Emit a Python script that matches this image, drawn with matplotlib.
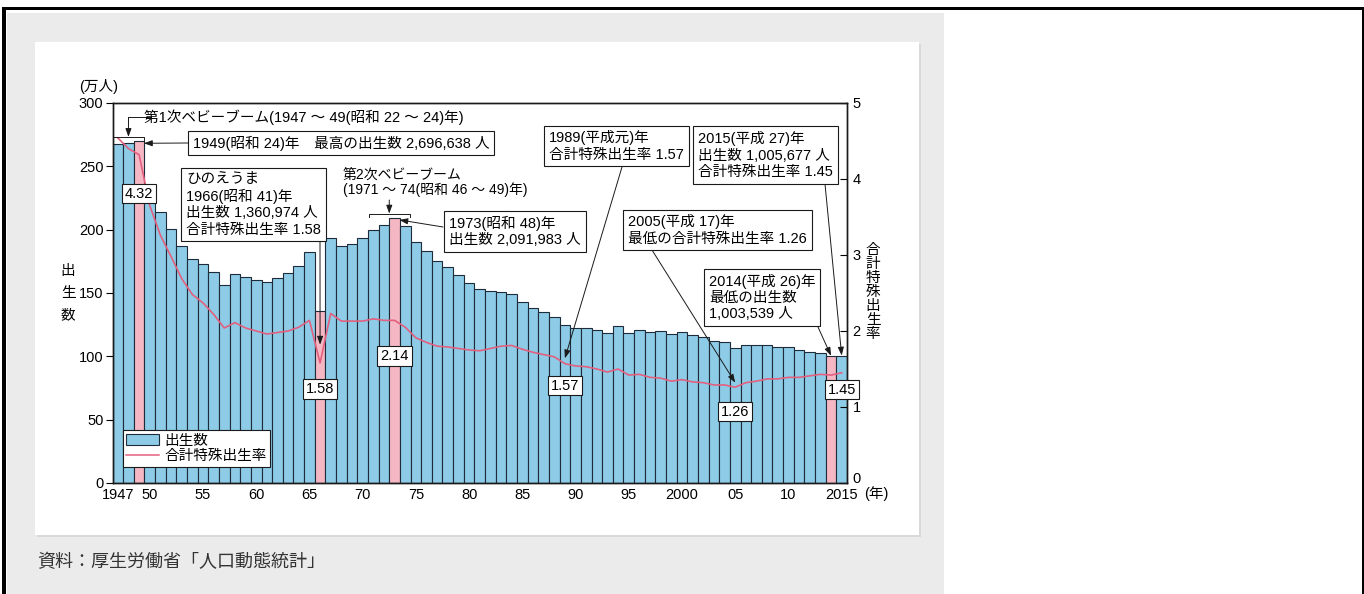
import matplotlib.pyplot as plt
from matplotlib.patches import Rectangle, Patch
from matplotlib.lines import Line2D

plt.rcParams['font.family'] = ['Liberation Sans', 'Noto Sans CJK JP', 'DejaVu Sans']

W, H = 1364, 594

# births (10,000 persons) and total fertility rate, 1947-2015
years = list(range(1947, 2016))
births = [267.9, 268.2, 269.7, 233.8, 213.8, 200.5, 186.8, 177.0, 173.1, 166.5,
          156.7, 165.3, 162.6, 160.6, 158.9, 161.9, 165.9, 171.7, 182.4, 136.1,
          193.6, 187.2, 188.9, 193.4, 200.1, 203.9, 209.2, 203.0, 190.1, 183.3,
          175.5, 170.9, 164.3, 157.7, 152.9, 151.5, 150.9, 149.0, 143.2, 138.3,
          134.7, 131.4, 124.7, 122.2, 122.3, 120.9, 118.8, 123.8, 118.7, 120.7,
          119.2, 120.3, 117.8, 119.1, 117.1, 115.4, 112.4, 111.1, 106.3, 109.3,
          109.0, 109.1, 107.0, 107.1, 105.1, 103.7, 103.0, 100.4, 100.6]
tfr = [4.54, 4.40, 4.32, 3.65, 3.26, 2.98, 2.69, 2.48, 2.37, 2.22,
       2.04, 2.11, 2.04, 2.00, 1.96, 1.98, 2.00, 2.05, 2.14, 1.58,
       2.23, 2.13, 2.13, 2.13, 2.16, 2.14, 2.14, 2.05, 1.91, 1.85,
       1.80, 1.79, 1.77, 1.75, 1.74, 1.77, 1.80, 1.81, 1.76, 1.72,
       1.69, 1.66, 1.57, 1.54, 1.53, 1.50, 1.46, 1.50, 1.42, 1.43,
       1.39, 1.38, 1.34, 1.36, 1.33, 1.32, 1.29, 1.29, 1.26, 1.32,
       1.34, 1.37, 1.37, 1.39, 1.39, 1.41, 1.43, 1.42, 1.45]
highlight_years = [1949, 1966, 1973, 2014]
tfr_label_years = [1949, 1966, 1973, 1989, 2005, 2015]
xtick_years = [1947, 1950, 1955, 1960, 1965, 1970, 1975, 1980, 1985, 1990,
               1995, 2000, 2005, 2010, 2015]
xtick_labels = ['1947', '50', '55', '60', '65', '70', '75', '80', '85', '90',
                '95', '2000', '05', '10', '2015']

BLUE = '#8dcbe7'
PINK = '#f5b7c3'
EDGE = '#1e2b38'
LINE = '#e3607f'
INK = '#1a1a1a'

# axes box in pixels
AX_L, AX_R, AX_T, AX_B = 112.5, 847, 103, 483


def axfrac(px, py):
    return ((px - AX_L) / (AX_R - AX_L), (AX_B - py) / (AX_B - AX_T))


def val(lst, year):
    return lst[years.index(year)]


fig = plt.figure(figsize=(W / 100, H / 100), dpi=100)
fig.patch.set_facecolor('white')

# page decoration
fig.add_artist(Rectangle((7 / W, 0), 937 / W, 581 / H, transform=fig.transFigure,
                         fc='#ebebeb', ec='none', zorder=0))
fig.add_artist(Rectangle((37 / W, 1 - 537 / H), 884 / W, 493 / H, transform=fig.transFigure,
                         fc='#d9d9d9', ec='none', zorder=0))
fig.add_artist(Rectangle((35 / W, 1 - 535 / H), 884 / W, 493 / H, transform=fig.transFigure,
                         fc='white', ec='none', zorder=0))
fig.add_artist(Rectangle((2 / W, 1 - 9.5 / H), 1362 / W, 2.5 / H, transform=fig.transFigure,
                         fc='black', ec='none', zorder=1))
fig.add_artist(Rectangle((2 / W, 0), 4 / W, 1 - 7 / H, transform=fig.transFigure,
                         fc='black', ec='none', zorder=1))
fig.add_artist(Rectangle((1361.5 / W, 0), 2.5 / W, 1 - 7 / H, transform=fig.transFigure,
                         fc='black', ec='none', zorder=1))

ax = fig.add_axes([AX_L / W, 1 - AX_B / H, (AX_R - AX_L) / W, (AX_B - AX_T) / H])
ax.set_facecolor('none')
colors = [PINK if y in highlight_years else BLUE for y in years]
ax.bar(years, births, width=1.0, color=colors, edgecolor=EDGE, linewidth=0.8, zorder=2)
ax.set_xlim(1946.5, 2015.5)
ax.set_ylim(0, 300)
ax.set_yticks(range(0, 301, 50))
ax.set_xticks(xtick_years, xtick_labels)
ax.tick_params(axis='y', direction='out', length=5, width=0.8, pad=1.5, labelsize=10.5)
ax.tick_params(axis='x', length=0, pad=3.5, labelsize=10.5)

ax2 = ax.twinx()
ax2.plot(years, tfr, color=LINE, lw=1.2, zorder=3)
ax2.set_ylim(0, 5)
ax2.set_yticks(range(0, 6))
ax2.tick_params(axis='y', direction='in', length=5, width=0.8, pad=4, labelsize=10.5)
# lift the right-hand "0" so it sits above the 2015 year label
ax2.get_yticklabels()[0].set_verticalalignment('baseline')
for a in (ax, ax2):
    for s in a.spines.values():
        s.set_linewidth(1.0)
        s.set_color(INK)

box = dict(boxstyle='square,pad=0.33', fc='white', ec=INK, lw=0.8)
arrow = dict(arrowstyle='-|>,head_length=0.5,head_width=0.18', color=INK, lw=0.7,
             shrinkA=0, shrinkB=0)


# brackets over the baby booms
def bracket(y0, y1, tip_py):
    top = max(val(births, y) for y in range(y0, y1 + 1)) + 3.5
    ax2.plot([y0 - 0.45, y0 - 0.45, y1 + 0.45, y1 + 0.45], [top - 3, top, top, top - 3],
             transform=ax.transData, color=INK, lw=0.7, zorder=4)
    mid = (y0 + y1) / 2
    ax2.annotate('', xy=(mid, top), xycoords=ax.transData,
                 xytext=(mid, axfrac(0, tip_py)[1]),
                 textcoords=ax.get_xaxis_transform(), arrowprops=arrow)
    return mid


mid1 = bracket(1947, 1949, 121)
ax2.plot([mid1, 1950.1], [axfrac(0, 117)[1]] * 2, transform=ax.get_xaxis_transform(),
         color=INK, lw=0.7)
ax2.plot([mid1, mid1], [axfrac(0, 117)[1], axfrac(0, 121)[1]],
         transform=ax.get_xaxis_transform(), color=INK, lw=0.7)
ax2.text(*axfrac(144, 117), '第1次ベビーブーム(1947 ～ 49(昭和 22 ～ 24)年)',
         transform=ax2.transAxes, ha='left', va='center', fontsize=10.5)

bracket(1971, 1974, 200)
ax2.text(*axfrac(343, 182), '第2次ベビーブーム\n(1971 ～ 74(昭和 46 ～ 49)年)',
         transform=ax2.transAxes, ha='left', va='center', fontsize=10, linespacing=1.05)

# leader lines: (start px, target year, target value, which axis)
leaders = [
    ((188, 143), 1949.45, val(births, 1949) - 1.5, ax),
    ((320, 242), 1966, val(tfr, 1966) + 0.24, ax2),
    ((443, 227), 1973.45, val(births, 1973) - 1.5, ax),
    ((622, 167), 1989, val(tfr, 1989) + 0.07, ax2),
    ((825, 184), 2015, val(births, 2015), ax),
    ((652, 250), 2005, val(tfr, 2005) + 0.06, ax2),
    ((818, 327), 2014, val(births, 2014), ax),
]
for (px, py), xt, yt, a in leaders:
    ax2.annotate('', xy=(xt, yt), xycoords=a.transData, xytext=axfrac(px, py),
                 textcoords='axes fraction', arrowprops=arrow, zorder=4)

# note boxes: (left px, centre py, text)
notes = [
    (193, 143, '1949(昭和 24)年　最高の出生数 2,696,638 人'),
    (186, 204.5, 'ひのえうま\n1966(昭和 41)年\n出生数 1,360,974 人\n合計特殊出生率 1.58'),
    (449, 231.5, '1973(昭和 48)年\n出生数 2,091,983 人'),
    (549, 146, '1989(平成元)年\n合計特殊出生率 1.57'),
    (698, 155, '2015(平成 27)年\n出生数 1,005,677 人\n合計特殊出生率 1.45'),
    (628, 230, '2005(平成 17)年\n最低の合計特殊出生率 1.26'),
    (709, 297.5, '2014(平成 26)年\n最低の出生数\n1,003,539 人'),
]
for px, py, txt in notes:
    ax2.text(*axfrac(px, py), txt, transform=ax2.transAxes, ha='left', va='center',
             fontsize=10.5, linespacing=1.2, bbox=box, zorder=5)

# small TFR value boxes
label_py = {1949: 193.5, 1966: 389, 1973: 356, 1989: 385.5, 2005: 411.5, 2015: 389.5}
for y in tfr_label_years:
    ax2.text(y, axfrac(0, label_py[y])[1], f'{val(tfr, y):.2f}',
             transform=ax2.get_xaxis_transform(), ha='center', va='center',
             fontsize=10.5, bbox=dict(boxstyle='square,pad=0.2', fc='white', ec=INK, lw=0.8),
             zorder=5)

# legend
handles = [Patch(fc=BLUE, ec=EDGE, lw=0.8), Line2D([0], [0], color=LINE, lw=1.1)]
leg = ax2.legend(handles, ['出生数', '合計特殊出生率'], loc='lower left',
                 bbox_to_anchor=(0.014, 0.042), borderaxespad=0, fontsize=10.5,
                 frameon=True, fancybox=False, framealpha=1, edgecolor=INK,
                 handlelength=2.2, handleheight=0.8, handletextpad=0.4,
                 labelspacing=0.1, borderpad=0.25)
leg.get_frame().set_linewidth(0.8)

# axis labels
fig.text(99 / W, 1 - 86 / H, '(万人)', ha='center', va='center', fontsize=10.5)
fig.text(68 / W, 1 - 293 / H, '出\n生\n数', ha='center', va='center', fontsize=10.5,
         linespacing=1.75)
fig.text(873 / W, 1 - 292 / H, '合\n計\n特\n殊\n出\n生\n率', ha='center', va='center',
         fontsize=10.5, linespacing=1.0)
fig.text(864 / W, 1 - 494 / H, '(年)', ha='left', va='center', fontsize=10.5)
fig.text(37 / W, 1 - 563 / H, '資料：厚生労働省「人口動態統計」', ha='left', va='center',
         fontsize=13, color='#333333')

fig.savefig('out.png', dpi=100)
